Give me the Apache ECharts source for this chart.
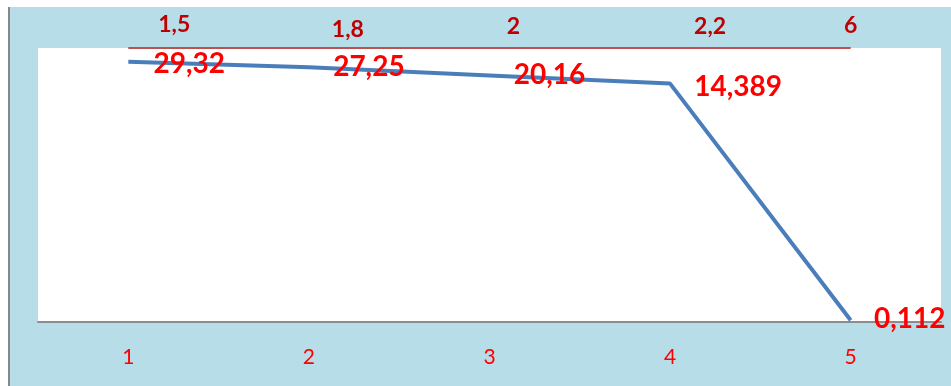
<!DOCTYPE html>
<html>
<head>
<meta charset="utf-8">
<script src="https://cdn.jsdelivr.net/npm/echarts@6/dist/echarts.min.js"></script>
<style>
  html, body { margin: 0; padding: 0; background: #ffffff; }
  #frame { position: absolute; left: 8px; top: 7px; width: 2px; height: 379px; background: #888888; }
  #chart { position: absolute; left: 10px; top: 7px; width: 941px; height: 379px; background: #b7dde8; }
</style>
</head>
<body>
<div id="frame"></div>
<div id="chart"></div>
<script>
// categories on the x axis
var categories = ['1', '2', '3', '4', '5'];
// height of the blue line as drawn (axis 0..30)
var lineLevels = [28.5, 27.9, 27.0, 26.1, 0.2];
// numbers written next to the blue line
var lineLabels = [29.32, 27.25, 20.16, 14.389, 0.112];
// numbers written above the red line
var topLabels = [1.5, 1.8, 2, 2.2, 6];
var topLevel = 30;

// label shifts from their point (style only)
var lineOffsets = [[61, 2], [60, 0], [60, 0], [68, 3], [59, -1]];
var topOffsets = [[46, -23], [39, -18], [24, -21], [40, -21], [0, -22]];

function comma(v) {
    return String(v).replace('.', ',');
}

var chart = echarts.init(document.getElementById('chart'));

var option = {
    animation: false,
    grid: {
        left: 28,
        right: 10,
        top: 41,
        bottom: 64,
        show: true,
        backgroundColor: '#ffffff',
        borderWidth: 0
    },
    xAxis: {
        type: 'category',
        data: categories,
        boundaryGap: true,
        axisLine: { lineStyle: { color: '#8c8c8c', width: 2 } },
        axisTick: { show: false },
        axisLabel: {
            color: '#ff0000',
            fontFamily: 'Lato',
            fontSize: 21,
            margin: 25
        }
    },
    yAxis: {
        type: 'value',
        min: 0,
        max: 30,
        show: false
    },
    series: [
        {
            type: 'line',
            data: lineLevels,
            symbol: 'circle',
            symbolSize: 1,
            itemStyle: { color: 'rgba(0,0,0,0)' },
            lineStyle: { color: '#4a7ebb', width: 4 },
            label: {
                show: true,
                position: 'inside',
                color: '#ff0000',
                fontFamily: 'Lato',
                fontWeight: 'bold',
                fontSize: 28,
                formatter: function (p) { return comma(lineLabels[p.dataIndex]); }
            },
            labelLayout: function (p) {
                var o = lineOffsets[p.dataIndex];
                return { dx: o[0], dy: o[1], hideOverlap: false };
            },
            z: 3
        },
        {
            type: 'line',
            data: topLabels.map(function () { return topLevel; }),
            symbol: 'circle',
            symbolSize: 1,
            itemStyle: { color: 'rgba(0,0,0,0)' },
            lineStyle: { color: '#c0504d', width: 2 },
            label: {
                show: true,
                position: 'inside',
                color: '#c00000',
                fontFamily: 'Lato',
                fontWeight: 'bold',
                fontSize: 23,
                formatter: function (p) { return comma(topLabels[p.dataIndex]); }
            },
            labelLayout: function (p) {
                var o = topOffsets[p.dataIndex];
                return { dx: o[0], dy: o[1], hideOverlap: false };
            },
            z: 2
        }
    ]
};

chart.setOption(option);

window.onresize = function () {
    chart.resize();
};
</script>
</body>
</html>
